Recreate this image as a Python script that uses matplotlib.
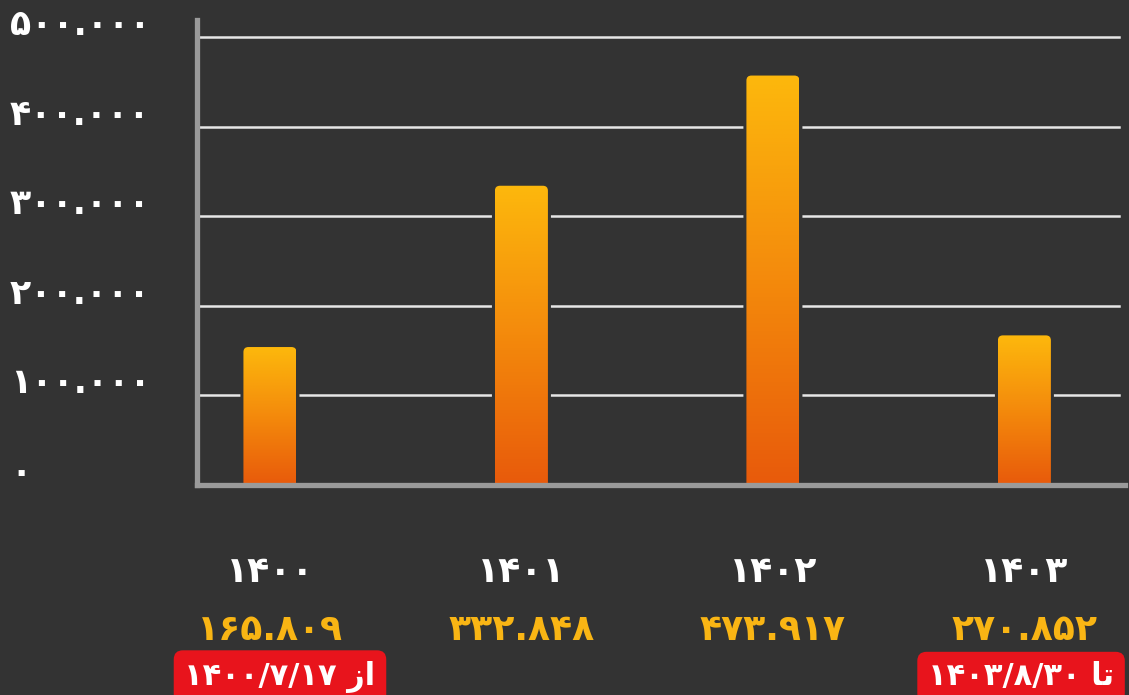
import matplotlib
matplotlib.use("Agg")
import matplotlib.pyplot as plt
import matplotlib.transforms as mtransforms
from matplotlib.patches import FancyBboxPatch
from matplotlib.colors import LinearSegmentedColormap
import numpy as np

# داده‌ها
years = [1400, 1401, 1402, 1403]
bar_heights = [154000, 334000, 457000, 167000]   # ارتفاع ستون‌ها، خوانده شده از تصویر
label_values = [165809, 332848, 473917, 270852]   # اعداد زیر ستون‌ها
y_ticks = [0, 100000, 200000, 300000, 400000, 500000]
start_date = "1400/7/17"
end_date = "1403/8/30"

BG = "#333333"
FA_DIGITS = str.maketrans("0123456789", "۰۱۲۳۴۵۶۷۸۹")


def fa(n, sep=True):
    s = f"{n:,}".replace(",", ".") if sep else str(n)
    return s.translate(FA_DIGITS)


plt.rcParams['font.family'] = ['DejaVu Sans']
plt.rcParams['font.weight'] = 'bold'

fig = plt.figure(figsize=(11.29, 6.95), dpi=100, facecolor=BG)
ax = fig.add_axes([197 / 1129, 210 / 695, (1125 - 197) / 1129, (485 - 20) / 695])
ax.set_facecolor(BG)

x = np.arange(len(years))
ax.set_xlim(-0.29, 3.4)
ax.set_ylim(0, 519000)

# خطوط راهنما
for t in y_ticks[1:]:
    ax.axhline(t, xmin=0, xmax=0.9935, color="#e6e6e6", lw=1.8, zorder=1)

for side in ["top", "right"]:
    ax.spines[side].set_visible(False)
for side in ["left", "bottom"]:
    ax.spines[side].set_color("#9a9a9a")
    ax.spines[side].set_linewidth(3.8)
    ax.spines[side].set_zorder(5)
    ax.spines[side].set_capstyle("projecting")
ax.set_xticks([])
ax.set_yticks([])

# تبدیل پیکسل به واحد داده برای گوشه‌های گرد
fig.canvas.draw()
bb = ax.get_window_extent()
px_x = (ax.get_xlim()[1] - ax.get_xlim()[0]) / bb.width
px_y = (ax.get_ylim()[1] - ax.get_ylim()[0]) / bb.height

w = 53 * px_x
r = 5 * px_x
cmap = LinearSegmentedColormap.from_list("bar", ["#e85a0b", "#f48a0c", "#fdb80c"])
grad = np.linspace(0, 1, 256).reshape(-1, 1)

for xi, h in zip(x, bar_heights):
    bottom = -8 * px_y
    # سایه / فاصله دور ستون
    halo = FancyBboxPatch((xi - w / 2 - 3 * px_x, bottom), w + 6 * px_x, h - bottom + 3 * px_y,
                          boxstyle=f"round,pad=0,rounding_size={r * 1.4}",
                          mutation_aspect=px_y / px_x, fc=BG, ec="none", zorder=2)
    ax.add_patch(halo)
    box = FancyBboxPatch((xi - w / 2, bottom), w, h - bottom,
                         boxstyle=f"round,pad=0,rounding_size={r}",
                         mutation_aspect=px_y / px_x, fc="none", ec="none", zorder=3)
    ax.add_patch(box)
    im = ax.imshow(grad, cmap=cmap, origin="lower", aspect="auto",
                   extent=[xi - w / 2, xi + w / 2, 0, h], zorder=3)
    im.set_clip_path(box)

ax.set_xlim(-0.29, 3.4)
ax.set_ylim(0, 519000)

# برچسب‌های محور عمودی
ylab_tr = mtransforms.blended_transform_factory(fig.transFigure, ax.transData)
ylab_tr = mtransforms.offset_copy(ylab_tr, fig=fig, x=0, y=12, units="dots")
for t in y_ticks:
    ax.text(10 / 1129, t, fa(t), transform=ylab_tr, ha="left", va="center",
            color="white", fontsize=25, fontweight="bold", clip_on=False)

# برچسب‌های زیر ستون‌ها
xlab_tr = mtransforms.blended_transform_factory(ax.transData, fig.transFigure)
for xi, yr, v in zip(x, years, label_values):
    ax.text(xi, 1 - 572 / 695, fa(yr, sep=False), transform=xlab_tr, ha="center", va="center",
            color="white", fontsize=26, fontweight="bold", clip_on=False)
    ax.text(xi, 1 - 630 / 695, fa(v), transform=xlab_tr, ha="center", va="center",
            color="#f9b514", fontsize=26, fontweight="bold", clip_on=False)

# بازه تاریخ (ترتیب دیداری چون matplotlib راست‌به‌چپ ندارد)
box_style = dict(boxstyle="round,pad=0.35,rounding_size=0.3", fc="#e8141c", ec="none")
ax.text(x[0] + 0.04, 1 - 677 / 695, start_date.translate(FA_DIGITS) + " " + "از"[::-1],
        transform=xlab_tr, ha="center", va="center", color="white", fontsize=22,
        fontweight="bold", bbox=box_style, clip_on=False)
fig.text(928 / 1129, 1 - 677 / 695, end_date.translate(FA_DIGITS) + " " + "\ufe8e\ufe97",
         ha="left", va="center", color="white", fontsize=22,
         fontweight="bold", bbox=box_style)

fig.savefig("out.png", dpi=100, facecolor=BG)
